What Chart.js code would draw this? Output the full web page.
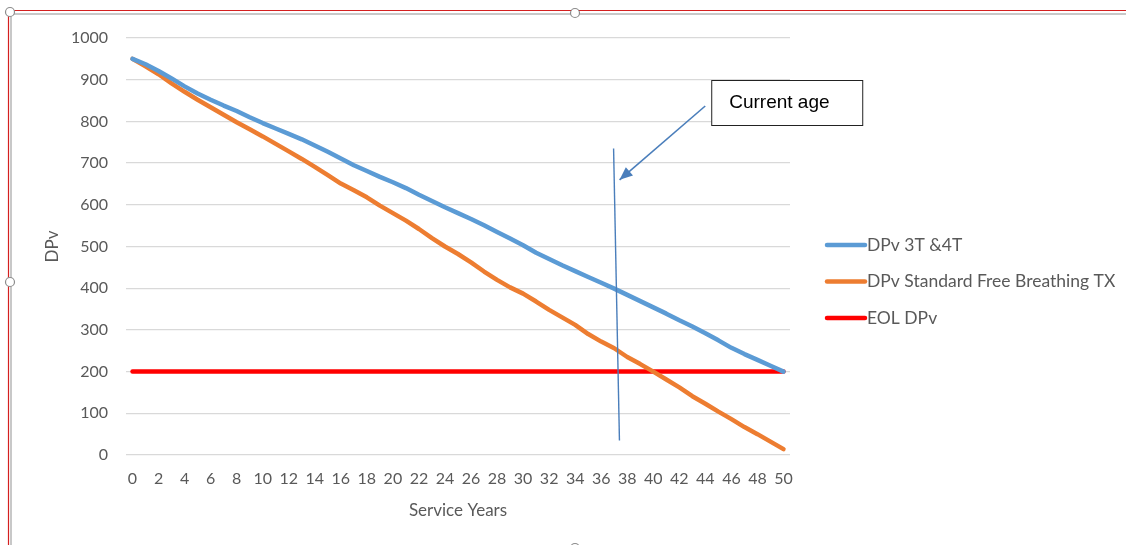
<!DOCTYPE html>
<html>
<head>
<meta charset="utf-8">
<title>DPv vs Service Years</title>
<script src="https://cdn.jsdelivr.net/npm/chart.js@4.4.1/dist/chart.umd.min.js"></script>
<style>
  html, body { margin: 0; padding: 0; background: #ffffff; }
  #wrap { position: relative; width: 1126px; height: 545px; }
</style>
</head>
<body>
<div id="wrap"><canvas id="chart" width="1126" height="545"></canvas></div>
<script>
// Service years 0..50
const years = [0,1,2,3,4,5,6,7,8,9,10,11,12,13,14,15,16,17,18,19,20,21,22,23,24,25,
  26,27,28,29,30,31,32,33,34,35,36,37,38,39,40,41,42,43,44,45,46,47,48,49,50];

// DPv 3T & 4T transformers
const dpv3T4T = [950,937,921,903,884,867,852,838,825,810,796,783,770,757,742,727,711,695,681,667,
  654,640,624,609,594,580,566,551,535,519,503,485,470,455,441,427,413,399,384,369,
  354,339,323,308,292,275,257,242,228,214,200];

// DPv standard free breathing transformer
const dpvStandard = [950,932,913,891,871,852,834,816,798,781,764,746,728,710,691,671,651,635,618,598,
  580,562,542,520,500,482,462,440,420,402,387,368,348,330,312,290,272,256,235,218,
  200,181,162,141,123,104,86,67,50,32,14];

// End-of-life DPv threshold
const eolDpv = [200,200,200,200,200,200,200,200,200,200,200,200,200,200,200,200,200,200,200,200,
  200,200,200,200,200,200,200,200,200,200,200,200,200,200,200,200,200,200,200,200,
  200,200,200,200,200,200,200,200,200,200,200];

const seriesNames = ['DPv 3T &4T', 'DPv Standard Free Breathing TX', 'EOL DPv'];
const seriesColors = ['#5B9BD5', '#ED7D31', '#FF0000'];

// Current-age marker: year position and vertical extent (DPv units)
const currentAgeTop = { year: 36.95, dpv: 735 };
const currentAgeBottom = { year: 37.4, dpv: 35 };
const calloutText = 'Current age';

const FONT = 'Lato, "Open Sans", sans-serif';
const TEXT_COLOR = '#595959';

// x pixel for a (possibly fractional) year on the category axis
function yearToPixel(scale, yr) {
  const i0 = Math.floor(yr);
  const i1 = Math.min(i0 + 1, years.length - 1);
  const p0 = scale.getPixelForValue(i0);
  const p1 = scale.getPixelForValue(i1);
  return p0 + (p1 - p0) * (yr - i0);
}

// Sheet frame with selection handles around the chart object
const framePlugin = {
  id: 'frame',
  beforeDraw(chart) {
    const ctx = chart.ctx;
    ctx.save();
    ctx.fillStyle = '#ffffff';
    ctx.fillRect(0, 0, chart.width, chart.height);
    ctx.strokeStyle = '#C8C8C8';
    ctx.lineWidth = 2;
    ctx.beginPath();
    ctx.moveTo(11, chart.height); ctx.lineTo(11, 14); ctx.lineTo(chart.width, 14);
    ctx.stroke();
    ctx.strokeStyle = '#D42020';
    ctx.lineWidth = 1.2;
    ctx.beginPath();
    ctx.moveTo(8.5, chart.height); ctx.lineTo(8.5, 10.5); ctx.lineTo(chart.width, 10.5);
    ctx.stroke();
    const handles = [[10, 12], [575, 13], [10, 282], [575, 548]];
    handles.forEach(([hx, hy]) => {
      ctx.beginPath();
      ctx.arc(hx, hy, 4.5, 0, Math.PI * 2);
      ctx.fillStyle = '#ffffff';
      ctx.fill();
      ctx.strokeStyle = '#8C8C8C';
      ctx.lineWidth = 1.2;
      ctx.stroke();
    });
    ctx.restore();
  }
};

// Legend drawn to the right of the plot
const sideLegendPlugin = {
  id: 'sideLegend',
  afterDraw(chart) {
    const ctx = chart.ctx;
    const area = chart.chartArea;
    const x0 = area.right + 35;
    const rowTop = area.top + 207;
    const rowGap = 36.5;
    ctx.save();
    chart.data.datasets.forEach((ds, i) => {
      const y = rowTop + i * rowGap;
      ctx.strokeStyle = ds.borderColor;
      ctx.lineWidth = 4.5;
      ctx.lineCap = 'round';
      ctx.beginPath();
      ctx.moveTo(x0 + 2, y);
      ctx.lineTo(x0 + 40, y);
      ctx.stroke();
      ctx.fillStyle = TEXT_COLOR;
      ctx.font = '17.5px ' + FONT;
      ctx.textAlign = 'left';
      ctx.textBaseline = 'middle';
      ctx.fillText(ds.label, x0 + 42, y);
    });
    ctx.restore();
  }
};

// "Current age" marker line and callout with arrow
const currentAgePlugin = {
  id: 'currentAge',
  afterDatasetsDraw(chart) {
    const ctx = chart.ctx;
    const xs = chart.scales.x, ys = chart.scales.y;
    const tx = yearToPixel(xs, currentAgeTop.year), ty = ys.getPixelForValue(currentAgeTop.dpv);
    const bx = yearToPixel(xs, currentAgeBottom.year), by = ys.getPixelForValue(currentAgeBottom.dpv);
    ctx.save();
    ctx.strokeStyle = '#4A7EBB';
    ctx.lineWidth = 1.4;
    ctx.beginPath();
    ctx.moveTo(tx, ty);
    ctx.lineTo(bx, by);
    ctx.stroke();

    // callout box
    const boxX = yearToPixel(xs, 44.45), boxY = ys.getPixelForValue(1000) + 42;
    const boxW = 151, boxH = 45;
    ctx.fillStyle = '#ffffff';
    ctx.fillRect(boxX, boxY, boxW, boxH);
    ctx.strokeStyle = '#222222';
    ctx.lineWidth = 1;
    ctx.strokeRect(boxX + 0.5, boxY + 0.5, boxW, boxH);
    ctx.fillStyle = '#000000';
    ctx.font = '19px "Liberation Sans", Arial, sans-serif';
    ctx.textAlign = 'left';
    ctx.textBaseline = 'middle';
    ctx.fillText(calloutText, boxX + 18, boxY + boxH / 2);

    // arrow from the box toward the marker line
    const ax0 = boxX - 6, ay0 = boxY + 26;
    const ax1 = tx + 6, ay1 = ys.getPixelForValue(660);
    ctx.strokeStyle = '#4A7EBB';
    ctx.fillStyle = '#4A7EBB';
    ctx.lineWidth = 1.6;
    ctx.beginPath();
    ctx.moveTo(ax0, ay0);
    ctx.lineTo(ax1, ay1);
    ctx.stroke();
    const ang = Math.atan2(ay1 - ay0, ax1 - ax0);
    const hl = 13, hw = 5.5;
    ctx.beginPath();
    ctx.moveTo(ax1, ay1);
    ctx.lineTo(ax1 - hl * Math.cos(ang) + hw * Math.sin(ang), ay1 - hl * Math.sin(ang) - hw * Math.cos(ang));
    ctx.lineTo(ax1 - hl * Math.cos(ang) - hw * Math.sin(ang), ay1 - hl * Math.sin(ang) + hw * Math.cos(ang));
    ctx.closePath();
    ctx.fill();
    ctx.restore();
  }
};

function lineDataset(label, data, color) {
  return {
    label: label,
    data: data,
    borderColor: color,
    backgroundColor: color,
    borderWidth: 4.5,
    borderCapStyle: 'round',
    borderJoinStyle: 'round',
    pointRadius: 0,
    pointHoverRadius: 0,
    tension: 0,
    fill: false
  };
}

new Chart(document.getElementById('chart'), {
  type: 'line',
  data: {
    labels: years,
    datasets: [
      lineDataset(seriesNames[0], dpv3T4T, seriesColors[0]),
      lineDataset(seriesNames[1], dpvStandard, seriesColors[1]),
      lineDataset(seriesNames[2], eolDpv, seriesColors[2])
    ]
  },
  options: {
    responsive: false,
    animation: false,
    devicePixelRatio: 1,
    layout: { padding: { top: 38, right: 336, left: 0, bottom: 0 } },
    plugins: {
      legend: { display: false },
      tooltip: { enabled: false }
    },
    scales: {
      x: {
        type: 'category',
        offset: true,
        grid: { display: false, drawTicks: false },
        border: { display: false },
        ticks: {
          autoSkip: false,
          maxRotation: 0,
          minRotation: 0,
          padding: 14,
          color: TEXT_COLOR,
          font: { family: FONT, size: 16 },
          callback: function (value, index) {
            return index % 2 === 0 ? this.getLabelForValue(value) : '';
          }
        },
        title: {
          display: true,
          text: 'Service Years',
          color: TEXT_COLOR,
          font: { family: FONT, size: 17 },
          padding: { top: 0, bottom: 24 }
        },
        afterFit(scale) { scale.height = 90; }
      },
      y: {
        min: 0,
        max: 1000,
        grid: { color: '#D9D9D9', lineWidth: 1.3, drawTicks: false },
        border: { display: false },
        ticks: {
          stepSize: 100,
          padding: 18,
          color: TEXT_COLOR,
          font: { family: FONT, size: 16 },
          callback: (value) => String(value)
        },
        title: {
          display: true,
          text: 'DPv',
          color: TEXT_COLOR,
          font: { family: FONT, size: 17 },
          padding: { top: 42, bottom: 0 }
        },
        afterFit(scale) { scale.width = 126; }
      }
    }
  },
  plugins: [framePlugin, currentAgePlugin, sideLegendPlugin]
});
</script>
</body>
</html>
